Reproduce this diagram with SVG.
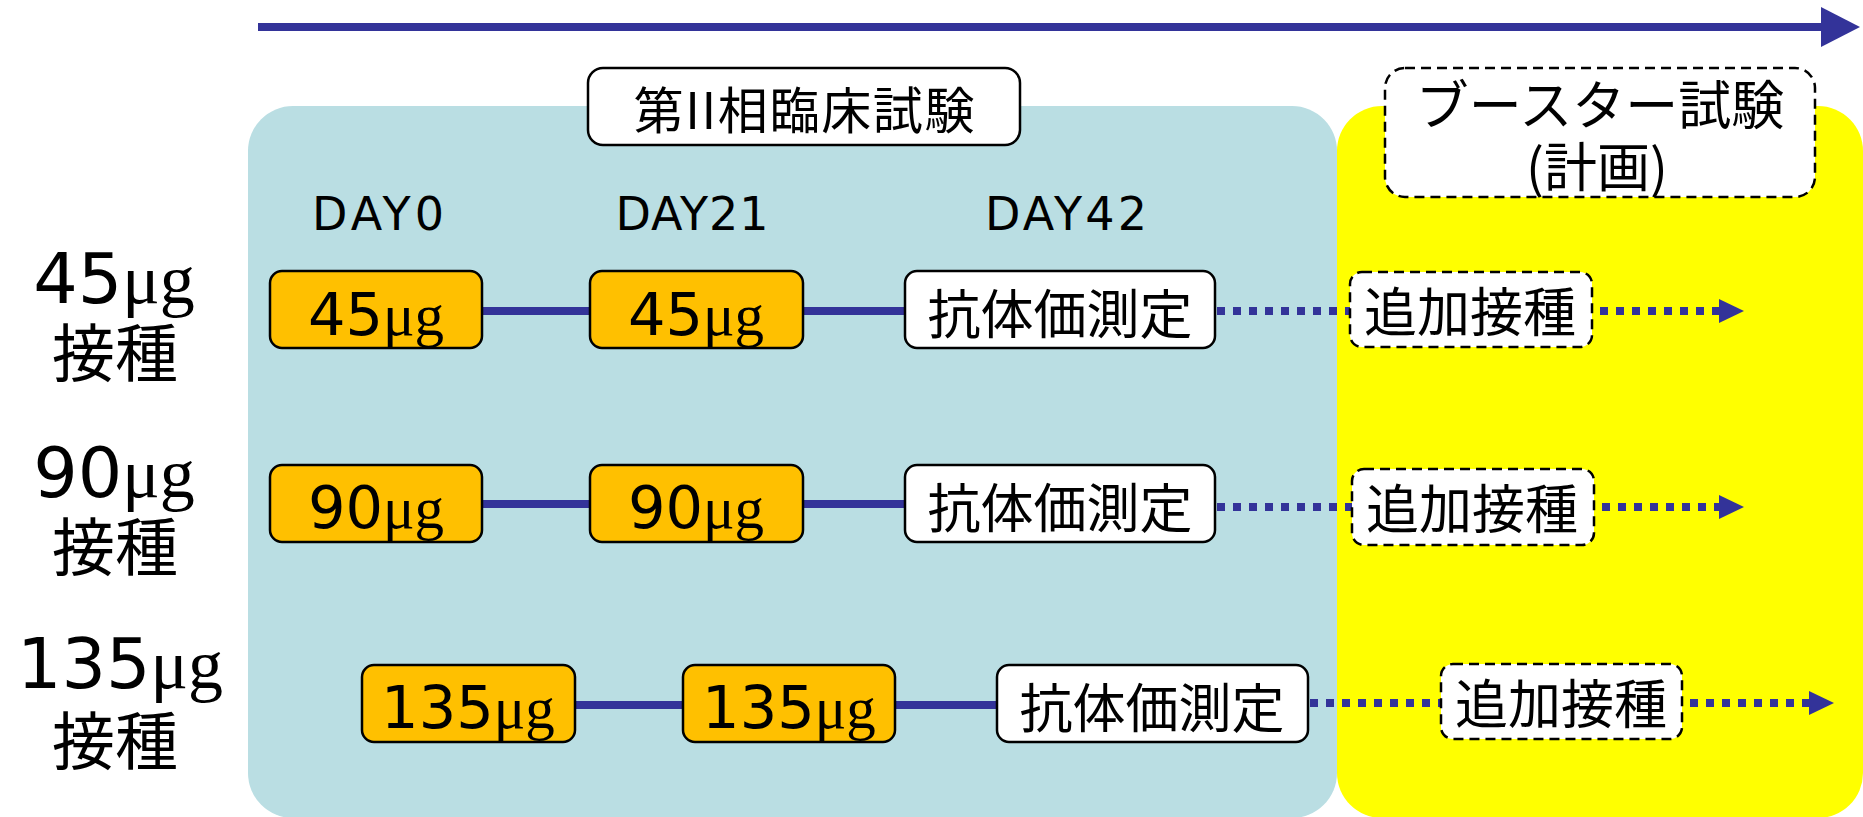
<svg xmlns="http://www.w3.org/2000/svg" width="1863" height="817" viewBox="0 0 1863 817">
<style>
.jp{font-family:"Noto Sans CJK JP","Noto Sans CJK SC",sans-serif;fill:#000;}
.num{font-family:"DejaVu Sans","Liberation Sans",sans-serif;fill:#000;}
.ser{font-family:"Liberation Serif","DejaVu Serif",serif;}
.dose{fill:#FFC000;stroke:#000;stroke-width:2.5;}
.meas{fill:#FFF;stroke:#000;stroke-width:2.5;}
.boost{fill:#FFF;stroke:#000;stroke-width:2.5;stroke-dasharray:10 6;}
.solid{stroke:#333399;stroke-width:8;fill:none;}
.dot{stroke:#333399;stroke-width:8;fill:none;stroke-dasharray:8 8;}
.head{fill:#333399;}
</style>
<g id="panels">
<rect x="248" y="106" width="1089" height="712" rx="45" fill="#BADEE3"/>
<rect x="1337" y="106" width="526" height="712" rx="45" fill="#FFFF00"/>
</g>
<g id="timeline">
<line x1="258" y1="27" x2="1823" y2="27" class="solid"/>
<polygon points="1821,7 1860,27 1821,47" class="head"/>
</g>
<g id="connectors">
<line x1="482" y1="311" x2="590" y2="311" class="solid"/>
<line x1="803" y1="311" x2="905" y2="311" class="solid"/>
<line x1="1217" y1="311" x2="1350" y2="311" class="dot"/>
<line x1="1600" y1="311" x2="1722" y2="311" class="dot"/>
<polygon points="1719,299 1744,311 1719,323" class="head"/>
<line x1="482" y1="504" x2="590" y2="504" class="solid"/>
<line x1="803" y1="504" x2="905" y2="504" class="solid"/>
<line x1="1217" y1="507" x2="1352" y2="507" class="dot"/>
<line x1="1602" y1="507" x2="1722" y2="507" class="dot"/>
<polygon points="1719,495 1744,507 1719,519" class="head"/>
<line x1="575" y1="705" x2="683" y2="705" class="solid"/>
<line x1="895" y1="705" x2="997" y2="705" class="solid"/>
<line x1="1310" y1="703" x2="1441" y2="703" class="dot"/>
<line x1="1690" y1="703" x2="1812" y2="703" class="dot"/>
<polygon points="1809,691 1834,703 1809,715" class="head"/>
</g>
<g id="phase2-title">
<rect x="588" y="68" width="432" height="77" rx="15" class="meas"/>
<text x="804" y="129" class="jp" font-size="50" text-anchor="middle" textLength="341" lengthAdjust="spacing">第II相臨床試験</text>
</g>
<g id="booster-title">
<rect x="1385" y="68" width="430" height="129" rx="20" class="boost"/>
<text x="1600" y="125" class="jp" font-size="53" text-anchor="middle">ブースター試験</text>
<text x="1597" y="187" class="jp" font-size="53" text-anchor="middle">(計画)</text>
</g>
<g id="day-labels">
<text x="378" y="230" class="num" font-size="46" text-anchor="middle" textLength="132" lengthAdjust="spacing">DAY0</text>
<text x="692" y="230" class="num" font-size="46" text-anchor="middle" textLength="153" lengthAdjust="spacing">DAY21</text>
<text x="1066" y="230" class="num" font-size="46" text-anchor="middle" textLength="162" lengthAdjust="spacing">DAY42</text>
</g>
<g id="label-45">
<text x="114" y="303" class="num" font-size="70" text-anchor="middle">45<tspan class="ser">μg</tspan></text>
<text x="115" y="376" class="jp" font-size="63" text-anchor="middle">接種</text>
</g>
<g id="label-90">
<text x="114" y="497" class="num" font-size="70" text-anchor="middle">90<tspan class="ser">μg</tspan></text>
<text x="115" y="570" class="jp" font-size="63" text-anchor="middle">接種</text>
</g>
<g id="label-135">
<text x="120" y="688" class="num" font-size="70" text-anchor="middle">135<tspan class="ser">μg</tspan></text>
<text x="115" y="764" class="jp" font-size="63" text-anchor="middle">接種</text>
</g>
<g id="r1-day0">
<rect x="270" y="271" width="212" height="77" rx="12" class="dose"/>
<text x="376" y="335" class="num" font-size="59" text-anchor="middle">45<tspan class="ser">μg</tspan></text>
</g>
<g id="r1-day21">
<rect x="590" y="271" width="213" height="77" rx="12" class="dose"/>
<text x="696" y="335" class="num" font-size="59" text-anchor="middle">45<tspan class="ser">μg</tspan></text>
</g>
<g id="r1-day42">
<rect x="905" y="271" width="310" height="77" rx="12" class="meas"/>
<text x="1060" y="334" class="jp" font-size="53" text-anchor="middle">抗体価測定</text>
</g>
<g id="r1-boost">
<rect x="1350" y="272" width="242" height="75" rx="12" class="boost"/>
<text x="1470" y="332" class="jp" font-size="53" text-anchor="middle">追加接種</text>
</g>
<g id="r2-day0">
<rect x="270" y="465" width="212" height="77" rx="12" class="dose"/>
<text x="376" y="528" class="num" font-size="59" text-anchor="middle">90<tspan class="ser">μg</tspan></text>
</g>
<g id="r2-day21">
<rect x="590" y="465" width="213" height="77" rx="12" class="dose"/>
<text x="696" y="528" class="num" font-size="59" text-anchor="middle">90<tspan class="ser">μg</tspan></text>
</g>
<g id="r2-day42">
<rect x="905" y="465" width="310" height="77" rx="12" class="meas"/>
<text x="1060" y="528" class="jp" font-size="53" text-anchor="middle">抗体価測定</text>
</g>
<g id="r2-boost">
<rect x="1352" y="469" width="242" height="76" rx="12" class="boost"/>
<text x="1472" y="529" class="jp" font-size="53" text-anchor="middle">追加接種</text>
</g>
<g id="r3-day0">
<rect x="362" y="665" width="213" height="77" rx="12" class="dose"/>
<text x="468" y="728" class="num" font-size="59" text-anchor="middle">135<tspan class="ser">μg</tspan></text>
</g>
<g id="r3-day21">
<rect x="683" y="665" width="212" height="77" rx="12" class="dose"/>
<text x="789" y="728" class="num" font-size="59" text-anchor="middle">135<tspan class="ser">μg</tspan></text>
</g>
<g id="r3-day42">
<rect x="997" y="665" width="311" height="77" rx="12" class="meas"/>
<text x="1152" y="728" class="jp" font-size="53" text-anchor="middle">抗体価測定</text>
</g>
<g id="r3-boost">
<rect x="1441" y="664" width="241" height="75" rx="12" class="boost"/>
<text x="1561" y="724" class="jp" font-size="53" text-anchor="middle">追加接種</text>
</g>
</svg>
